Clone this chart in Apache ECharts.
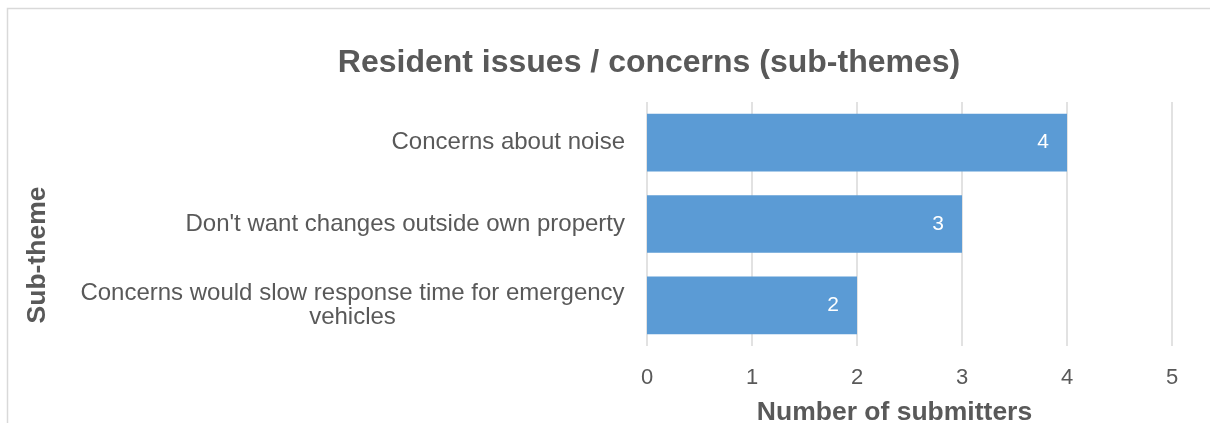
<!DOCTYPE html>
<html>
<head>
<meta charset="utf-8">
<script src="https://cdn.jsdelivr.net/npm/echarts@6/dist/echarts.min.js"></script>
<style>
  html, body { margin: 0; padding: 0; background: #fff; }
  #chart { width: 1210px; height: 423px; }
</style>
</head>
<body>
<div id="chart"></div>
<script>
// Sub-themes raised by residents and how many submitters mentioned each
const categories = [
  'Concerns about noise',
  "Don't want changes outside own property",
  'Concerns would slow response time for emergency vehicles'
];
const submitters = [4, 3, 2];
const xTicks = [0, 1, 2, 3, 4, 5];

const FONT = '"Liberation Sans", Arial, sans-serif';
const TEXT = '#595959';
const GRID = '#d9d9d9';

// wrap long labels into lines of at most maxChars characters
function wrap(text, maxChars) {
  const words = text.split(' ');
  const lines = [];
  let cur = '';
  words.forEach(w => {
    const next = cur ? cur + ' ' + w : w;
    if (next.length > maxChars && cur) { lines.push(cur); cur = w; }
    else cur = next;
  });
  if (cur) lines.push(cur);
  return lines;
}

const chart = echarts.init(document.getElementById('chart'));
chart.setOption({
  animation: false,
  textStyle: { fontFamily: FONT },
  title: {
    text: 'Resident issues / concerns (sub-themes)',
    left: 649,
    top: 47,
    padding: 0,
    textAlign: 'center',
    textStyle: { fontFamily: FONT, fontSize: 32, fontWeight: 'bold', color: TEXT }
  },
  graphic: [{
    type: 'rect',
    shape: { x: 7.5, y: 8.5, width: 1400, height: 600 },
    style: { fill: 'none', stroke: GRID, lineWidth: 1.5 },
    silent: true
  }],
  grid: { left: 647, right: 38, top: 102, bottom: 77, outerBoundsMode: 'none', containLabel: false },
  xAxis: {
    type: 'value',
    min: xTicks[0],
    max: xTicks[xTicks.length - 1],
    interval: 1,
    name: 'Number of submitters',
    nameLocation: 'middle',
    nameGap: 53,
    nameTextStyle: { fontFamily: FONT, fontSize: 26.5, fontWeight: 'bold', color: TEXT, padding: [0, 30, 0, 0] },
    axisLine: { show: false },
    axisTick: { show: false },
    axisLabel: { fontFamily: FONT, fontSize: 22, color: TEXT, margin: 21 },
    splitLine: { show: true, lineStyle: { color: GRID, width: 1.5 } }
  },
  yAxis: {
    type: 'category',
    data: categories,
    inverse: true,
    name: 'Sub-theme',
    nameLocation: 'middle',
    nameGap: 596,
    nameRotate: 90,
    nameTextStyle: { fontFamily: FONT, fontSize: 26.5, fontWeight: 'bold', color: TEXT, padding: [0, 62, 0, 0] },
    axisLine: { show: false },
    axisTick: { show: false },
    axisLabel: {
      margin: 22,
      fontFamily: FONT,
      fontSize: 24,
      color: TEXT,
      lineHeight: 24,
      formatter: function (v) {
        const lines = wrap(v, 48);
        if (lines.length === 1) return v;
        return lines.map(l => '{w|' + l + '}').join('\n');
      },
      rich: {
        w: { width: 545, align: 'center', fontFamily: FONT, fontSize: 24, color: TEXT, lineHeight: 24 }
      }
    }
  },
  series: [{
    type: 'bar',
    data: submitters,
    barCategoryGap: '29%',
    itemStyle: { color: '#5b9bd5' },
    label: {
      show: true,
      position: 'insideRight',
      distance: 18,
      color: '#ffffff',
      fontFamily: FONT,
      fontSize: 21
    }
  }]
});
</script>
</body>
</html>
